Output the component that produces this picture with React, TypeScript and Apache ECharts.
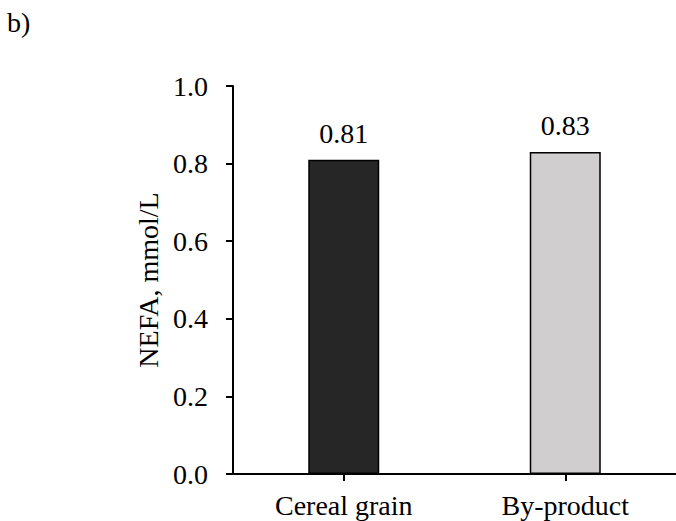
import React, { useEffect, useRef } from "react";
import * as echarts from "echarts";

const categories = ["Cereal grain", "By-product"];
const values = [0.81, 0.83];
const valueLabels = ["0.81", "0.83"];
const barColors = ["#262626", "#D0CECE"];
const yTicks = [0, 0.2, 0.4, 0.6, 0.8, 1.0];

const FONT = "Liberation Serif";
const FS = 28;

export default function App() {
  const ref = useRef<HTMLDivElement>(null);
  useEffect(() => {
    if (!ref.current) return;
    const chart = echarts.init(ref.current, null, { renderer: "svg" });
    chart.setOption({
      animation: false,
      backgroundColor: "#ffffff",
      textStyle: { fontFamily: FONT },
      graphic: [
        {
          type: "text",
          left: 7,
          top: 8,
          style: { text: "b)", fontSize: FS, fontFamily: FONT, fill: "#000" },
        },
      ],
      grid: { left: 233, top: 86, width: 444, height: 388 },
      xAxis: {
        type: "category",
        data: categories,
        axisLine: { lineStyle: { color: "#000", width: 2 } },
        axisTick: { show: true, alignWithLabel: true, length: 7, lineStyle: { color: "#000", width: 2 } },
        axisLabel: { color: "#000", fontSize: FS, fontFamily: FONT, margin: 17 },
      },
      yAxis: {
        type: "value",
        min: 0,
        max: 1,
        interval: 0.2,
        name: "NEFA, mmol/L",
        nameLocation: "middle",
        nameGap: 61,
        nameTextStyle: { color: "#000", fontSize: FS, fontFamily: FONT },
        splitLine: { show: false },
        axisLine: { show: true, lineStyle: { color: "#000", width: 2 } },
        axisTick: { show: true, length: 7, lineStyle: { color: "#000", width: 2 } },
        axisLabel: {
          color: "#000",
          fontSize: FS,
          fontFamily: FONT,
          margin: 25,
          formatter: (v: number) => (yTicks.includes(Math.round(v * 10) / 10) ? v.toFixed(1) : ""),
        },
      },
      series: [
        {
          type: "bar",
          barWidth: 71,
          data: values.map((v, i) => ({
            value: v,
            itemStyle: { color: barColors[i], borderColor: "#000", borderWidth: 1.5 },
            label: {
              show: true,
              position: "top",
              distance: 12,
              formatter: valueLabels[i],
              color: "#000",
              fontSize: FS,
              fontFamily: FONT,
            },
          })),
        },
      ],
    });
    return () => chart.dispose();
  }, []);
  return (
    <div
      ref={ref}
      style={{ position: "fixed", left: 0, top: 0, width: 676, height: 521 }}
    />
  );
}
